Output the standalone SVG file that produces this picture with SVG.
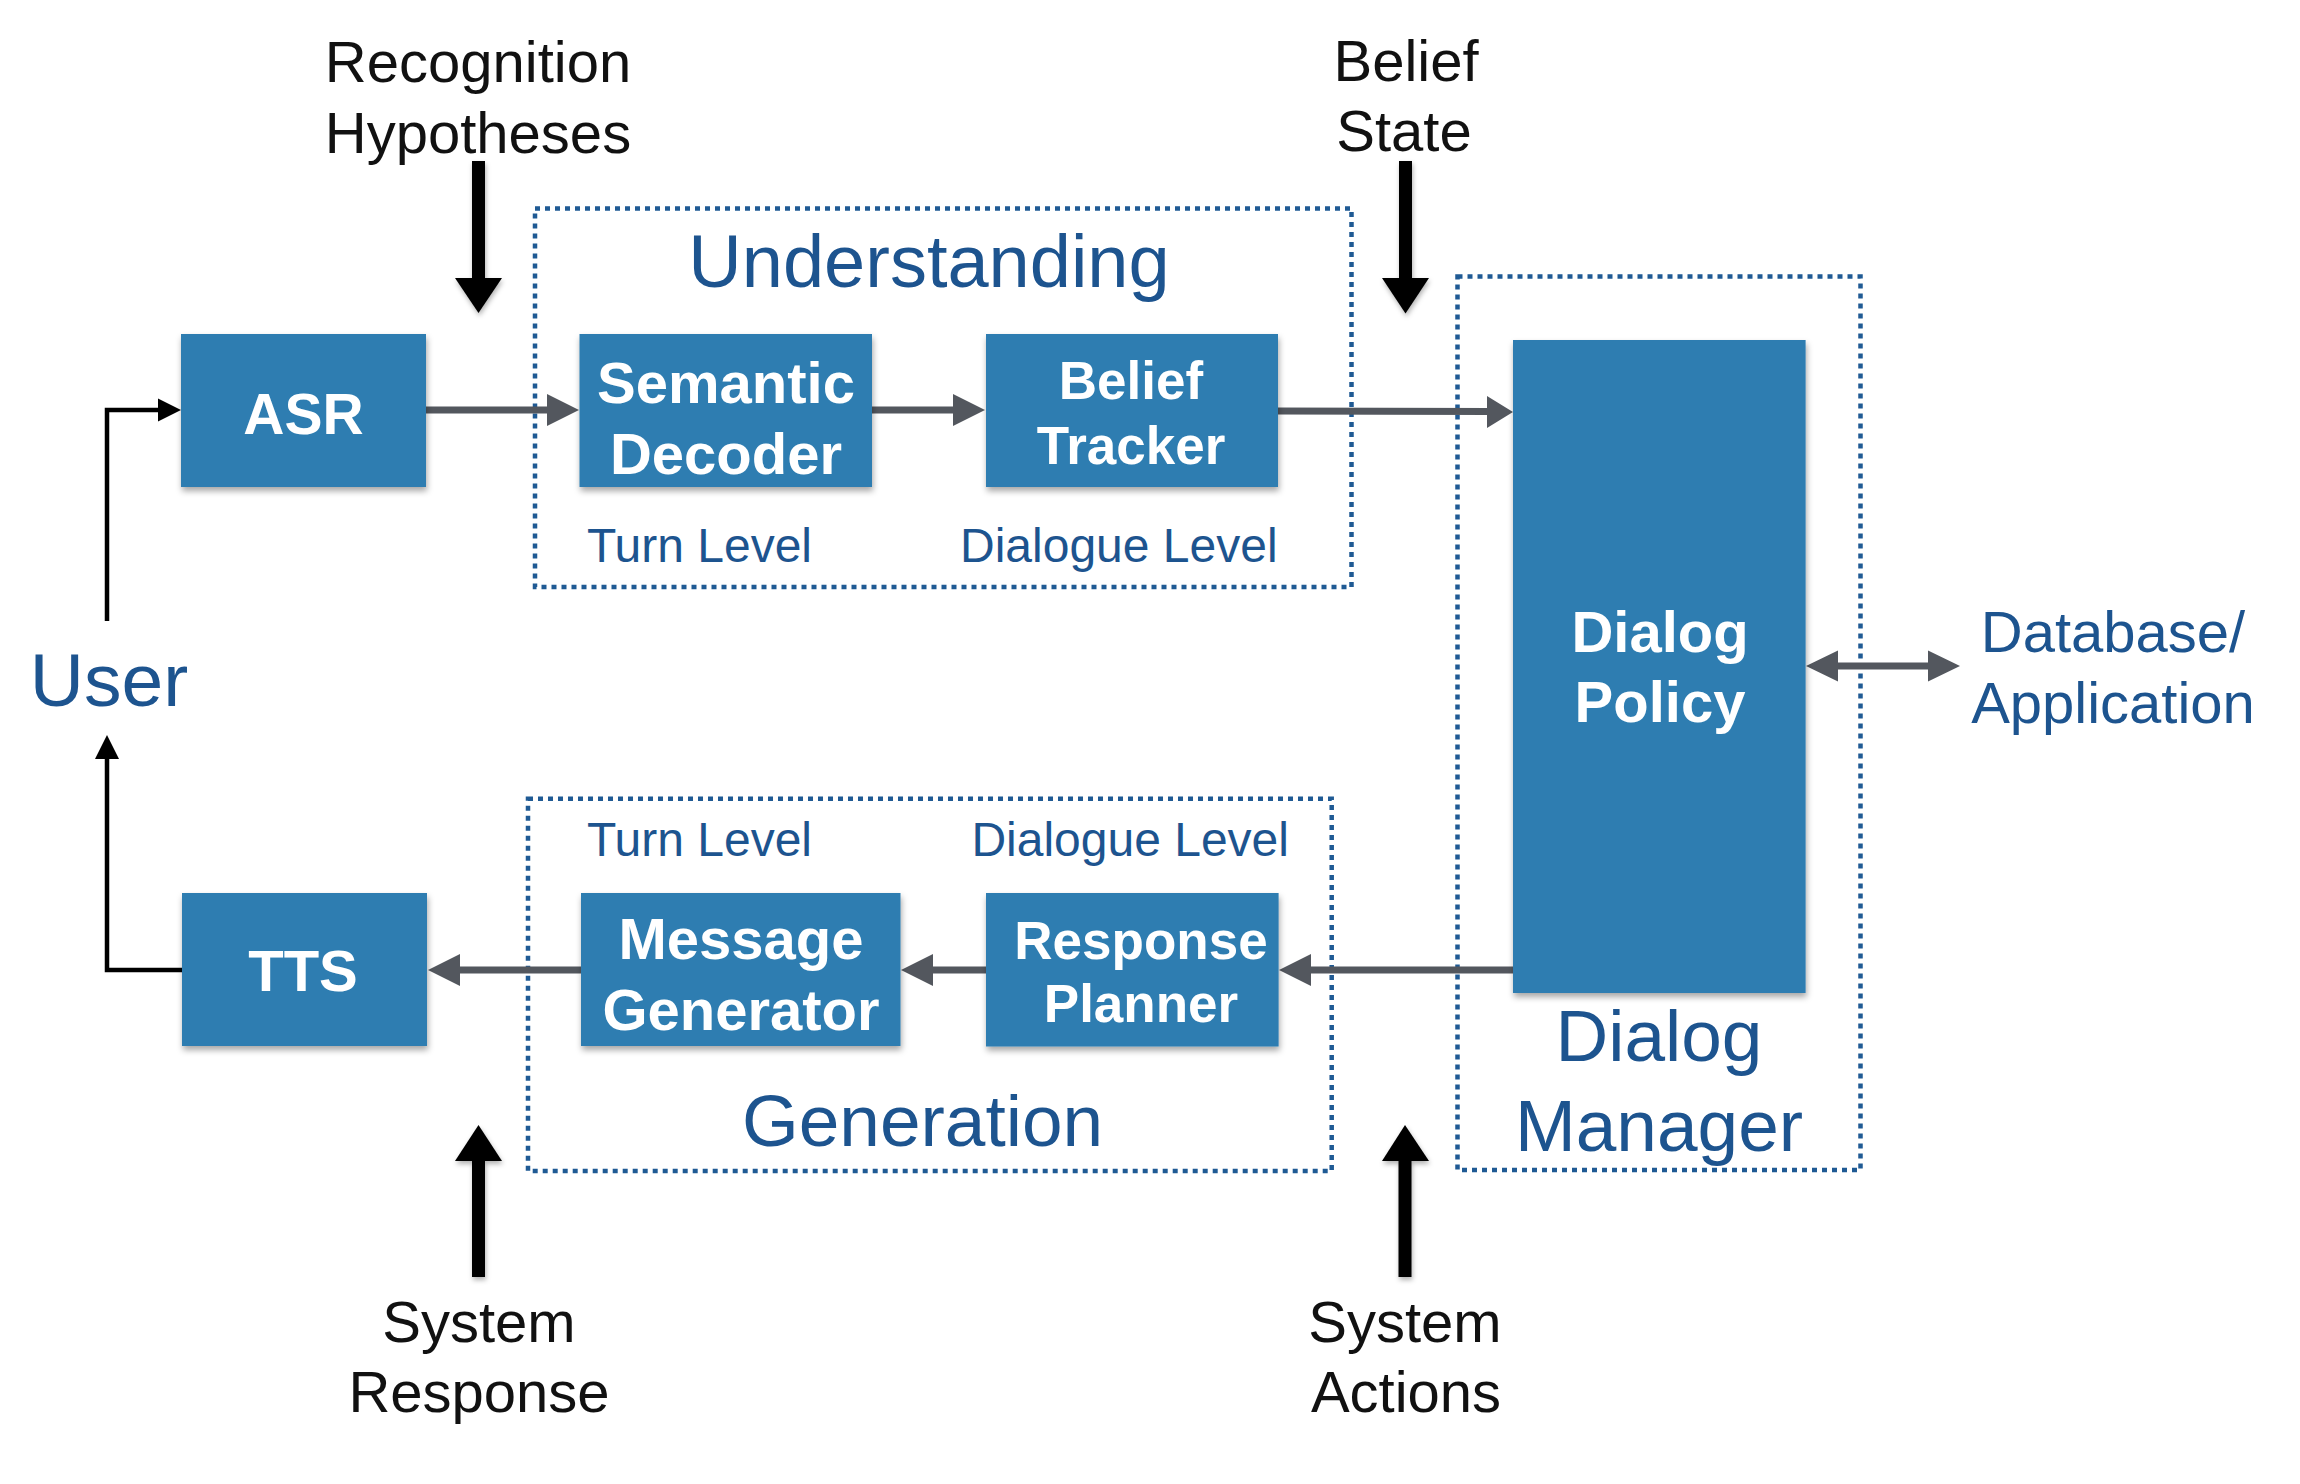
<svg xmlns="http://www.w3.org/2000/svg" width="2300" height="1484" viewBox="0 0 2300 1484">
<defs>
<filter id="sh" x="-10%" y="-10%" width="125%" height="130%">
<feDropShadow dx="1" dy="4" stdDeviation="3" flood-color="#000" flood-opacity="0.35"/>
</filter>
<filter id="sh2" x="-30%" y="-10%" width="160%" height="130%">
<feDropShadow dx="1" dy="3" stdDeviation="2.5" flood-color="#000" flood-opacity="0.3"/>
</filter>
<style>
.box{fill:#2f7db1;filter:url(#sh)}
.bt{font-family:"Liberation Sans",Arial,sans-serif;font-weight:bold;fill:#fff;text-anchor:middle}
.lbl{font-family:"Liberation Sans",Arial,sans-serif;fill:#111;text-anchor:middle;font-size:58px}
.blue{font-family:"Liberation Sans",Arial,sans-serif;fill:#1d548f}
.grp{fill:none;stroke:#1f5a94;stroke-width:4.5;stroke-dasharray:5 5}
.gl{stroke:#53575e;stroke-width:7;fill:none}
.gh{fill:#53575e}
.kl{stroke:#000;stroke-width:4.5;fill:none}
.big{fill:#000;filter:url(#sh2)}
</style>
</defs>

<g id="groups">
<g id="understanding">
<rect class="grp" x="535" y="208.5" width="816.5" height="378.5"/>
<text class="blue" x="929" y="287" font-size="74" text-anchor="middle">Understanding</text>
<text class="blue" x="587" y="562" font-size="48">Turn Level</text>
<text class="blue" x="960" y="562" font-size="48">Dialogue Level</text>
</g>
<g id="generation">
<rect class="grp" x="528" y="798.7" width="803.7" height="372.3"/>
<text class="blue" x="922.5" y="1146" font-size="73" text-anchor="middle">Generation</text>
<text class="blue" x="587" y="855.5" font-size="48">Turn Level</text>
<text class="blue" x="971.4" y="856" font-size="48">Dialogue Level</text>
</g>
<g id="dialog-manager">
<rect class="grp" x="1457.5" y="276.5" width="403" height="893.5"/>
<text class="blue" x="1659" y="1061" font-size="73" text-anchor="middle">Dialog</text>
<text class="blue" x="1659" y="1150.5" font-size="73" text-anchor="middle">Manager</text>
</g>
</g>

<g id="connectors">
<!-- ASR to Semantic Decoder -->
<line class="gl" x1="426" y1="410" x2="550" y2="410"/>
<polygon class="gh" points="579,410 547,394 547,426"/>
<!-- Semantic Decoder to Belief Tracker -->
<line class="gl" x1="872" y1="410" x2="956" y2="410"/>
<polygon class="gh" points="985,410 953,394 953,426"/>
<!-- Belief Tracker to Dialog Policy -->
<line class="gl" x1="1278" y1="411" x2="1490" y2="411.5"/>
<polygon class="gh" points="1513,412 1487,396 1487,428"/>
<!-- Dialog Policy to Response Planner -->
<line class="gl" x1="1513" y1="970" x2="1308" y2="970"/>
<polygon class="gh" points="1279,970 1311,954 1311,986"/>
<!-- Response Planner to Message Generator -->
<line class="gl" x1="986" y1="970" x2="930" y2="970"/>
<polygon class="gh" points="901,970 933,954 933,986"/>
<!-- Message Generator to TTS -->
<line class="gl" x1="581" y1="970" x2="456" y2="970"/>
<polygon class="gh" points="428,970 460,954 460,986"/>
<!-- Dialog Policy <-> Database -->
<line class="gl" x1="1835" y1="666" x2="1930" y2="666"/>
<polygon class="gh" points="1806,666 1838,650.5 1838,681.5"/>
<polygon class="gh" points="1960,666 1928,650.5 1928,681.5"/>
<!-- User to ASR -->
<polyline class="kl" points="107,621 107,410 160,410"/>
<polygon fill="#000" points="181,410 158,398.5 158,421.5"/>
<!-- TTS to User -->
<polyline class="kl" points="182,970 107,970 107,756"/>
<polygon fill="#000" points="107,735 95,759 119,759"/>
<!-- Bold input arrows -->
<g id="recognition-arrow" class="big">
<rect x="472" y="161" width="13" height="119"/>
<polygon points="455,278 502,278 478.5,313"/>
</g>
<g id="belief-state-arrow" class="big">
<rect x="1399" y="161" width="13" height="119"/>
<polygon points="1382,278 1429,278 1405.5,313.5"/>
</g>
<g id="system-response-arrow" class="big">
<rect x="472" y="1159" width="13" height="118"/>
<polygon points="455,1161 502,1161 478.5,1125"/>
</g>
<g id="system-actions-arrow" class="big">
<rect x="1398.5" y="1159" width="13" height="118"/>
<polygon points="1382,1161 1429,1161 1405,1125"/>
</g>
</g>

<g id="asr">
<rect class="box" x="181" y="334" width="245" height="153"/>
<text class="bt" x="303.5" y="434" font-size="57">ASR</text>
</g>
<g id="semantic-decoder">
<rect class="box" x="579.5" y="334" width="292.5" height="153"/>
<text class="bt" x="726" y="403" font-size="58">Semantic</text>
<text class="bt" x="726" y="474" font-size="58">Decoder</text>
</g>
<g id="belief-tracker">
<rect class="box" x="986" y="334" width="292" height="153"/>
<text class="bt" x="1131" y="399" font-size="53">Belief</text>
<text class="bt" x="1131" y="463.5" font-size="53">Tracker</text>
</g>
<g id="dialog-policy">
<rect class="box" x="1513" y="340" width="292.6" height="653"/>
<text class="bt" x="1660" y="651.6" font-size="58">Dialog</text>
<text class="bt" x="1660" y="722" font-size="58">Policy</text>
</g>
<g id="tts">
<rect class="box" x="182" y="893" width="245" height="153"/>
<text class="bt" x="303" y="991" font-size="58">TTS</text>
</g>
<g id="message-generator">
<rect class="box" x="581" y="893" width="319.5" height="153"/>
<text class="bt" x="741" y="959" font-size="58">Message</text>
<text class="bt" x="741" y="1030" font-size="58">Generator</text>
</g>
<g id="response-planner">
<rect class="box" x="986" y="893" width="292.6" height="153.5"/>
<text class="bt" x="1141" y="958.6" font-size="53">Response</text>
<text class="bt" x="1141" y="1022.4" font-size="53">Planner</text>
</g>

<g id="user">
<text class="blue" x="109" y="706" font-size="75" text-anchor="middle">User</text>
</g>
<g id="database">
<text class="blue" x="2113" y="651.6" font-size="58" text-anchor="middle">Database/</text>
<text class="blue" x="2113" y="723.4" font-size="58" text-anchor="middle">Application</text>
</g>
<g id="recognition-hypotheses">
<text class="lbl" x="478" y="82.4">Recognition</text>
<text class="lbl" x="478" y="152.6">Hypotheses</text>
</g>
<g id="belief-state">
<text class="lbl" x="1406" y="80.8">Belief</text>
<text class="lbl" x="1404" y="151">State</text>
</g>
<g id="system-response">
<text class="lbl" x="479" y="1341.6">System</text>
<text class="lbl" x="479" y="1411.7">Response</text>
</g>
<g id="system-actions">
<text class="lbl" x="1405" y="1341.6">System</text>
<text class="lbl" x="1406" y="1411.7">Actions</text>
</g>
</svg>
